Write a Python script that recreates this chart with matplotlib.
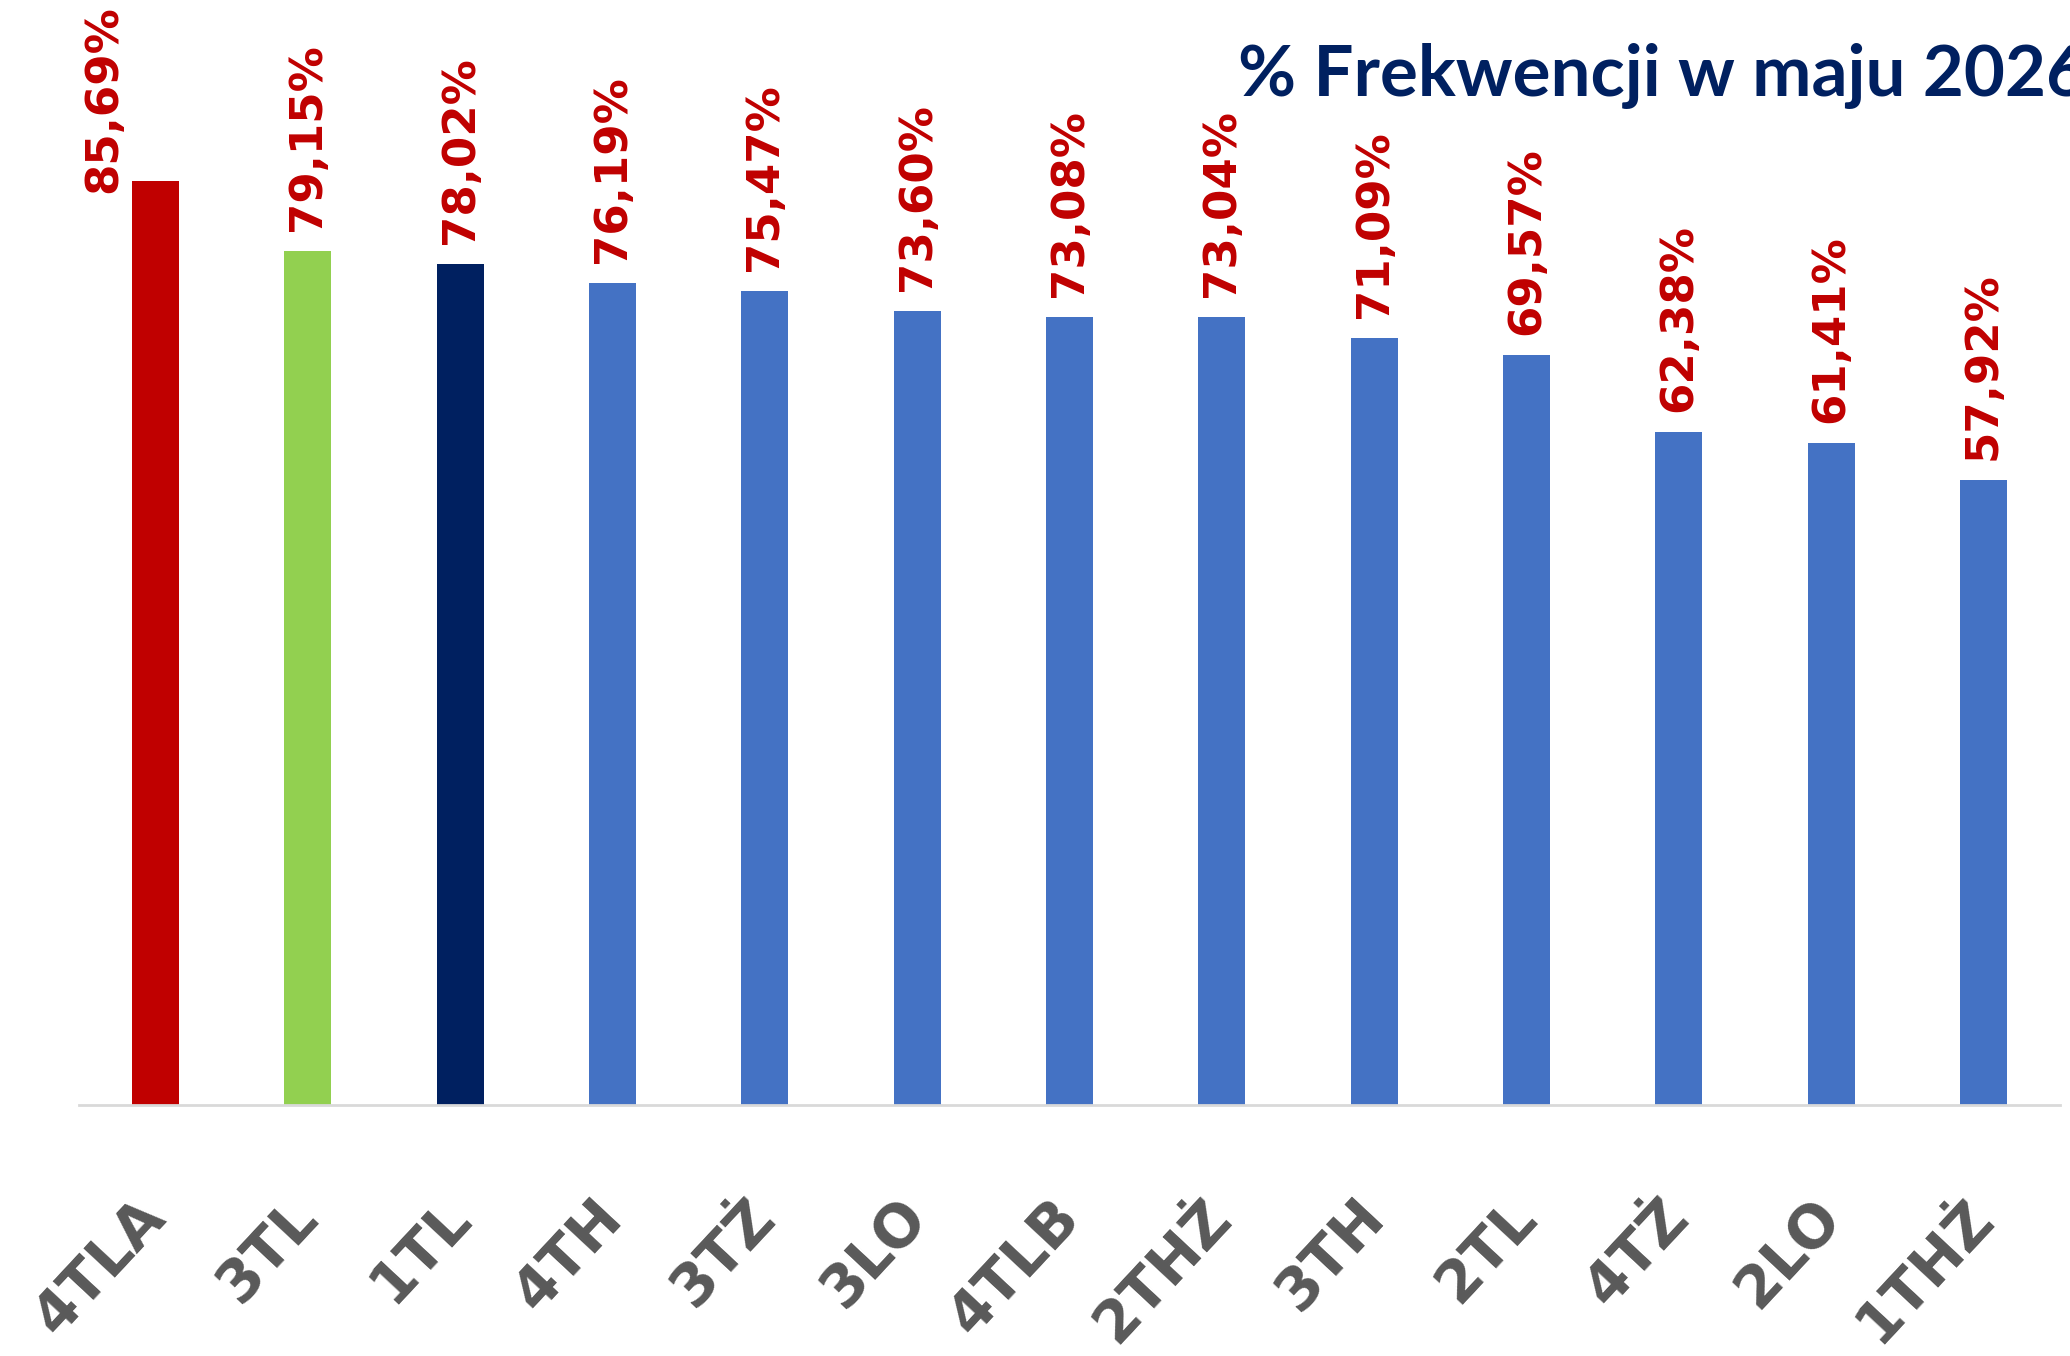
import matplotlib
matplotlib.use("Agg")
import matplotlib.pyplot as plt

# dane: frekwencja klas w maju 2026
classes = ["4TLA", "3TL", "1TL", "4TH", "3TŻ", "3LO", "4TLB",
           "2THŻ", "3TH", "2TL", "4TŻ", "2LO", "1THŻ"]
attendance = [85.69, 79.15, 78.02, 76.19, 75.47, 73.60, 73.08,
              73.04, 71.09, 69.57, 62.38, 61.41, 57.92]
bar_colors = ["#C00000", "#92D050", "#002060"] + ["#4472C4"] * 10
title = "% Frekwencji w maju 2026"

fig = plt.figure(figsize=(20.7, 13.56), dpi=100)
ax = fig.add_axes([0.0383, 0.185, 0.9567, 0.7955])

x = range(len(classes))
bars = ax.bar(x, attendance, width=0.31, color=bar_colors, zorder=2)

ax.set_xlim(-0.5, len(classes) - 0.5)
ax.set_ylim(0, 100)
ax.set_yticks([])
for s in ["top", "right", "left"]:
    ax.spines[s].set_visible(False)
ax.spines["bottom"].set_color("#D9D9D9")
ax.spines["bottom"].set_linewidth(2)

ax.set_xticks(list(x))
ax.set_xticklabels(classes, rotation=47, ha="right", va="center",
                   rotation_mode="anchor", fontsize=42, fontweight="bold",
                   color="#595959", family="DejaVu Sans")
ax.tick_params(axis="x", length=0, pad=74)

# etykiety danych (pierwsza przesunieta, jak w oryginale)
for i, (b, v) in enumerate(zip(bars, attendance)):
    off = (-52, -12) if i == 0 else (0, 20)
    ax.annotate(f"{v:.2f}%".replace(".", ","),
                (b.get_x() + b.get_width() / 2, v),
                xytext=off, textcoords="offset pixels",
                rotation=90, ha="center", va="bottom",
                fontsize=32.5, fontweight="bold", color="#C00000",
                family="DejaVu Sans")

fig.text(0.598, 1 - 96 / 1356, title, ha="left", va="baseline",
         fontsize=51, fontweight="bold", color="#002060", family="Lato")

fig.savefig("out.png", dpi=100)
